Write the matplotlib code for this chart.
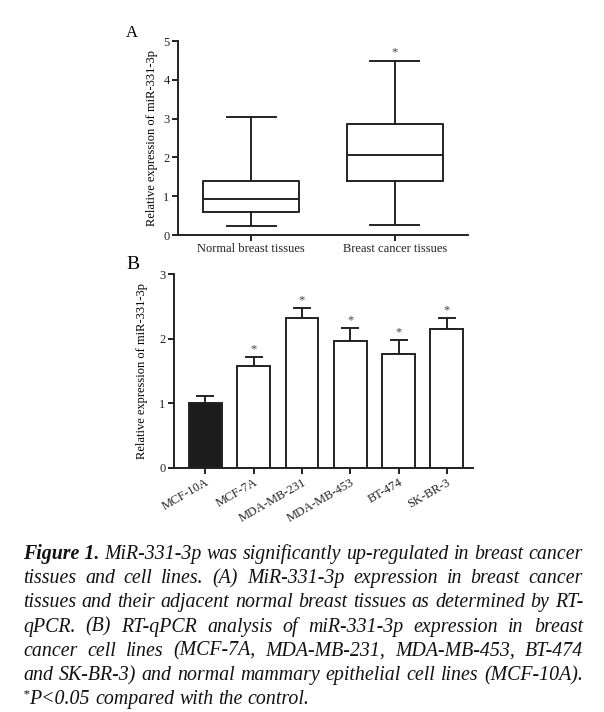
import numpy as np
import matplotlib
matplotlib.use("Agg")
import matplotlib.pyplot as plt

# panel A: box plot summary
groups_a = ["Normal breast tissues", "Breast cancer tissues"]
box_min = [0.22, 0.25]
box_q1 = [0.58, 1.38]
box_med = [0.92, 2.07]
box_q3 = [1.40, 2.85]
box_max = [3.05, 4.48]
star_a = [False, True]

# panel B: cell lines
cells = ["MCF-10A", "MCF-7A", "MDA-MB-231", "MDA-MB-453", "BT-474", "SK-BR-3"]
expr = [1.00, 1.57, 2.32, 1.97, 1.77, 2.15]
err = [0.12, 0.15, 0.16, 0.20, 0.21, 0.17]
star_b = [False, True, True, True, True, True]

ylabel = "Relative expression of miR-331-3p"
caption = [
    "MiR-331-3p was significantly up-regulated in breast cancer",
    "tissues and cell lines. (A) MiR-331-3p expression in breast cancer",
    "tissues and their adjacent normal breast tissues as determined by RT-",
    "qPCR. (B) RT-qPCR analysis of miR-331-3p expression in breast",
    "cancer cell lines (MCF-7A, MDA-MB-231, MDA-MB-453, BT-474",
    "and SK-BR-3) and normal mammary epithelial cell lines (MCF-10A).",
    "P<0.05 compared with the control.",
]

plt.rcParams['font.family'] = ['Liberation Serif', 'DejaVu Serif']
W, H = 604, 712
fig = plt.figure(figsize=(W / 100, H / 100), dpi=100)
lw = 1.4
fs_tick = 9

def style_axes(ax):
    for s in ['top', 'right']:
        ax.spines[s].set_visible(False)
    for s in ['left', 'bottom']:
        ax.spines[s].set_linewidth(lw)
        ax.spines[s].set_color('#222222')
    ax.tick_params(width=lw, length=4, labelsize=fs_tick, colors='#222222', pad=2)

# ---- panel A
axA = fig.add_axes([178 / W, 1 - 235 / H, (468 - 178) / W, (235 - 41) / H])
stats = []
for i in range(len(groups_a)):
    stats.append(dict(med=box_med[i], q1=box_q1[i], q3=box_q3[i],
                      whislo=box_min[i], whishi=box_max[i], fliers=[]))
lp = dict(color='#222222', linewidth=lw)
axA.bxp(stats, positions=[1, 2], widths=0.67, capwidths=0.34, showfliers=False,
        boxprops=lp, whiskerprops=lp, capprops=lp, medianprops=lp)
for i, s in enumerate(star_a):
    if s:
        axA.text(i + 1, box_max[i] + 0.08, "*", ha='center', va='bottom', fontsize=9, color='#444444')
axA.set_xlim(0.49, 2.51)
axA.set_ylim(0, 5)
axA.set_yticks([0, 1, 2, 3, 4, 5])
axA.set_xticks([1, 2])
axA.set_xticklabels(groups_a)
axA.set_ylabel(ylabel, fontsize=fs_tick, labelpad=4)
style_axes(axA)
fig.text(132 / W, 1 - 33 / H, "A", fontsize=12, ha='center', va='center')

# ---- panel B
axB = fig.add_axes([174 / W, 1 - 468 / H, (473 - 174) / W, (468 - 274) / H])
x = np.arange(len(cells))
colors = ['#1c1c1c'] + ['white'] * (len(cells) - 1)
axB.bar(x, expr, width=0.68, color=colors, edgecolor='#222222', linewidth=lw, zorder=2)
axB.errorbar(x, expr, yerr=[np.zeros(len(err)), err], fmt='none', ecolor='#222222',
             elinewidth=lw, capsize=6.5, capthick=lw, zorder=1)
for i, s in enumerate(star_b):
    if s:
        axB.text(x[i], expr[i] + err[i] + 0.02, "*", ha='center', va='bottom', fontsize=9, color='#444444')
axB.set_xlim(-0.65, 5.54)
axB.set_ylim(0, 3)
axB.set_yticks([0, 1, 2, 3])
axB.set_xticks(x)
axB.set_xticklabels(cells, rotation=30, ha='right', rotation_mode='anchor')
axB.set_ylabel(ylabel, fontsize=fs_tick, labelpad=8)
style_axes(axB)
fig.text(133 / W, 1 - 265 / H, "B", fontsize=14, ha='center', va='center')

# ---- caption, justified by hand
left, right = 23, 583
base0, step = 559, 24.2
r = fig.canvas.get_renderer()

def width_of(t):
    return t.get_window_extent(r).width

# pick the size so the nearly natural line 6 fills the column
probe = fig.text(0, 0, caption[5], fontsize=10, style='italic')
cap_fs = 10 * (right - left - 6) / width_of(probe)
probe.remove()
probe1 = fig.text(0, 0, "ab", fontsize=cap_fs, style='italic')
probe2 = fig.text(0, 0, "a b", fontsize=cap_fs, style='italic')
space = width_of(probe2) - width_of(probe1)
probe1.remove()
probe2.remove()

for li, line in enumerate(caption):
    yb = 1 - (base0 + li * step) / H
    objs = []
    gaps = []
    last = li == len(caption) - 1
    if li == 0:
        objs.append(fig.text(0, yb, "Figure 1.", fontsize=cap_fs, style='italic', weight='bold',
                             va='baseline', color='#111111'))
        gaps.append(True)
    if last:
        objs.append(fig.text(0, yb + 7 / H, "*", fontsize=cap_fs * 0.65, style='italic',
                             va='baseline', color='#111111'))
        gaps.append(False)
    for k, w in enumerate(line.split(" ")):
        objs.append(fig.text(0, yb, w, fontsize=cap_fs, style='italic', va='baseline', color='#111111'))
        gaps.append(not (last and k == 0))
    widths = [width_of(o) for o in objs]
    ngap = sum(gaps[1:])
    g = space if last else (right - left - sum(widths)) / ngap
    xp = left
    for k, o in enumerate(objs):
        if k > 0 and gaps[k]:
            xp += g
        o.set_x(xp / W)
        xp += widths[k]

fig.savefig("out.png", dpi=100)
